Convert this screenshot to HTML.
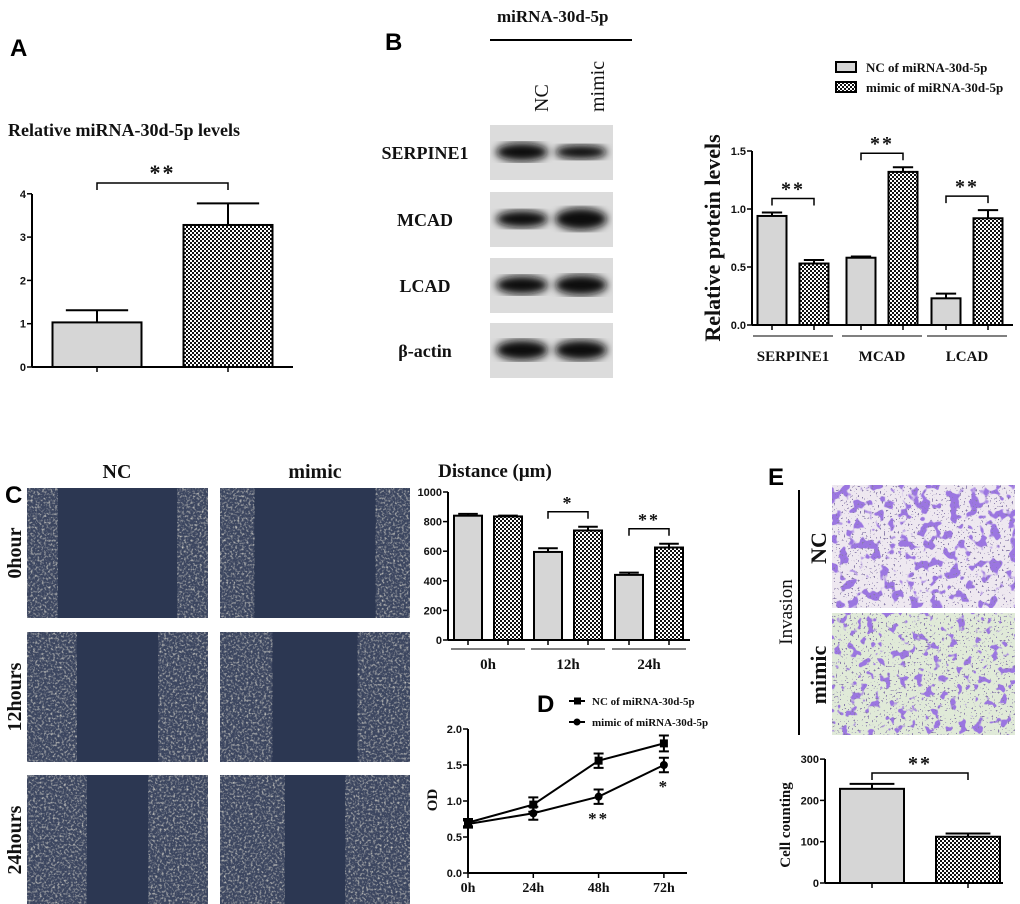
<!DOCTYPE html>
<html><head><meta charset="utf-8">
<style>
html,body{margin:0;padding:0;background:#fff;}
svg{display:block;}
.tk{font:bold 11px "Liberation Sans",sans-serif;fill:#111;}
.sf{font-family:"Liberation Serif",serif;font-weight:bold;fill:#111;}
.pl{font:bold 24px "Liberation Sans",sans-serif;fill:#000;}
</style></head>
<body>
<svg id="fig" width="1020" height="904" viewBox="0 0 1020 904" xmlns="http://www.w3.org/2000/svg">
<defs>
<pattern id="chk" width="4" height="4" patternUnits="userSpaceOnUse"><rect width="4" height="4" fill="#fff"/><rect width="2" height="2" fill="#111"/><rect x="2" y="2" width="2" height="2" fill="#111"/></pattern>
<filter id="blur3"><feGaussianBlur stdDeviation="4"/></filter>
<filter id="tex" x="0" y="0" width="100%" height="100%"><feTurbulence type="fractalNoise" baseFrequency="0.45" numOctaves="2" seed="3"/><feColorMatrix type="matrix" values="0 0 0 0 0.72  0 0 0 0 0.7  0 0 0 0 0.62  0 0 0 2.2 -1.05"/></filter>
<filter id="cellsA" x="0" y="0" width="100%" height="100%"><feTurbulence type="fractalNoise" baseFrequency="0.1" numOctaves="2" seed="7"/><feColorMatrix type="matrix" values="0 0 0 0 0.33  0 0 0 0 0.18  0 0 0 0 0.75  0 0 0 -14 6.4"/></filter>
<filter id="cellsB" x="0" y="0" width="100%" height="100%"><feTurbulence type="fractalNoise" baseFrequency="0.12" numOctaves="2" seed="11"/><feColorMatrix type="matrix" values="0 0 0 0 0.33  0 0 0 0 0.18  0 0 0 0 0.75  0 0 0 -14 5.8"/></filter>
<filter id="dots" x="0" y="0" width="100%" height="100%"><feTurbulence type="fractalNoise" baseFrequency="0.5" numOctaves="1" seed="5"/><feColorMatrix type="matrix" values="0 0 0 0 0.25  0 0 0 0 0.2  0 0 0 0 0.4  0 0 0 20 -13"/></filter>
</defs>

<text class="pl" x="10" y="56">A</text>
<text class="pl" x="385" y="50">B</text>
<text class="pl" x="5" y="503">C</text>
<text class="pl" x="537" y="712">D</text>
<text class="pl" x="768" y="485">E</text>

<text class="sf" x="8" y="136" font-size="18">Relative miRNA-30d-5p levels</text>

<g>
<text class="sf" x="497" y="22" font-size="17">miRNA-30d-5p</text>
<line x1="490" y1="40" x2="632" y2="40" stroke="#000" stroke-width="2"/>
<text class="sf" font-size="20" transform="translate(548,112) rotate(-90)" style="font-weight:normal">NC</text>
<text class="sf" font-size="20" transform="translate(604,112) rotate(-90)" style="font-weight:normal">mimic</text>
<g id="blotRows"></g>
</g>

<g id="scratch"></g>
<text class="sf" x="117" y="478" font-size="20" text-anchor="middle">NC</text>
<text class="sf" x="315" y="478" font-size="20" text-anchor="middle">mimic</text>

<g>
<line x1="799" y1="490" x2="799" y2="735" stroke="#000" stroke-width="2"/>
<text class="sf" font-size="19" transform="translate(792,612) rotate(-90)" text-anchor="middle" style="font-weight:normal">Invasion</text>
<text class="sf" font-size="22" transform="translate(826,548) rotate(-90)" text-anchor="middle">NC</text>
<text class="sf" font-size="22" transform="translate(826,675) rotate(-90)" text-anchor="middle">mimic</text>
<rect x="832" y="485" width="183" height="123" fill="#eee8f0"/>
<rect x="832" y="485" width="183" height="123" filter="url(#cellsA)"/>
<rect x="832" y="485" width="183" height="123" filter="url(#dots)"/>
<rect x="832" y="613" width="183" height="122" fill="#e0ead8"/>
<rect x="832" y="613" width="183" height="122" filter="url(#cellsB)"/>
<rect x="832" y="613" width="183" height="122" filter="url(#dots)"/>
</g>

<g id="charts"></g>
</svg>

<script>
// ---- Panel A data ----
const aCats = ['NC', 'mimic'];
const aVals = [1.03, 3.28];
const aErr = [0.28, 0.5];
const aTicks = [0, 1, 2, 3, 4];
// ---- Panel B data ----
const bCats = ['SERPINE1', 'MCAD', 'LCAD'];
const bNC = [0.94, 0.58, 0.23];
const bNCErr = [0.03, 0.01, 0.04];
const bMim = [0.53, 1.32, 0.92];
const bMimErr = [0.03, 0.04, 0.07];
const bSig = ['**', '**', '**'];
const bTicks = ['0.0', '0.5', '1.0', '1.5'];
const blotLabels = ['SERPINE1', 'MCAD', 'LCAD', 'β-actin'];
// ---- Panel C data ----
const cCats = ['0h', '12h', '24h'];
const cNC = [840, 595, 440];
const cNCErr = [12, 25, 15];
const cMim = [835, 740, 625];
const cMimErr = [5, 25, 25];
const cSig = ['', '*', '**'];
const cTicks = [0, 200, 400, 600, 800, 1000];
const rowLabels = ['0hour', '12hours', '24hours'];
// ---- Panel D data ----
const dCats = ['0h', '24h', '48h', '72h'];
const dNC = [0.70, 0.95, 1.56, 1.80];
const dNCErr = [0.05, 0.10, 0.10, 0.11];
const dMim = [0.68, 0.83, 1.06, 1.50];
const dMimErr = [0.05, 0.09, 0.10, 0.10];
const dSig = ['', '', '**', '*'];
const dTicks = ['0.0', '0.5', '1.0', '1.5', '2.0'];
// ---- Panel E data ----
const eCats = ['NC', 'mimic'];
const eVals = [228, 112];
const eErr = [12, 8];
const eTicks = [0, 100, 200, 300];

const NS = 'http://www.w3.org/2000/svg';
const root = document.getElementById('charts');
function mk(tag, attrs, parent) {
  const e = document.createElementNS(NS, tag);
  for (const k in attrs) e.setAttribute(k, attrs[k]);
  (parent || root).appendChild(e);
  return e;
}
function txt(str, attrs, parent) { const t = mk('text', attrs, parent); t.textContent = str; return t; }

function yAxis(x, yFn, ticks, top, bottom, name) {
  const g = mk('g', {});
  
  
  mk('line', {x1: x, y1: top, x2: x, y2: bottom, stroke: '#000', 'stroke-width': 2}, g);
  ticks.forEach(t => {
    const y = yFn(parseFloat(t));
    mk('line', {x1: x - 5, y1: y, x2: x, y2: y, stroke: '#000', 'stroke-width': 1.5}, g);
    const l = txt(String(t), {x: x - 6, y: y + 4, 'text-anchor': 'end', class: 'tk'}, g);
    
    
  });
}
function xAxis(x1, x2, y, name) {
  const l = mk('line', {x1: x1, y1: y, x2: x2, y2: y, stroke: '#000', 'stroke-width': 2});
  
  
}
function bar(cx, w, yFn, v, err, pattern, name) {
  const g = mk('g', {});
  
  
  const y0 = yFn(0), y = yFn(v), ye = yFn(v + err);
  mk('line', {x1: cx, y1: y, x2: cx, y2: ye, stroke: '#000', 'stroke-width': 2}, g);
  mk('line', {x1: cx - w * 0.35, y1: ye, x2: cx + w * 0.35, y2: ye, stroke: '#000', 'stroke-width': 2}, g);
  mk('rect', {x: cx - w / 2, y: y, width: w, height: y0 - y, fill: pattern ? 'url(#chk)' : '#d6d6d6', stroke: '#000', 'stroke-width': 2}, g);
  mk('line', {x1: cx, y1: y0, x2: cx, y2: y0 + 5, stroke: '#000', 'stroke-width': 1.5}, g);
}
function bracket(x1, x2, y, label, fs, name) {
  const g = mk('g', {});
  
  
  mk('path', {d: `M${x1},${y + 7}V${y}H${x2}V${y + 7}`, fill: 'none', stroke: '#000', 'stroke-width': 1.5}, g);
  txt(label, {x: (x1 + x2) / 2, y: y - 3, 'text-anchor': 'middle', class: 'sf', 'font-size': fs, 'letter-spacing': 2}, g);
}

// ===== Panel A =====
const yA = v => 367 - v * 43.3;
const xA = i => 97 + i * 131;
yAxis(32, yA, aTicks, 194, 367, 'panel-a-y-axis');
xAxis(32, 293, 367, 'panel-a-x-axis');
aCats.forEach((c, i) => bar(xA(i), 89, yA, aVals[i], aErr[i], i === 1, 'panel-a-bar-' + c));
bracket(xA(0), xA(1), 183, '**', 22, 'panel-a-significance');

// ===== Panel B chart =====
const yB = v => 325 - v * 116;
const xB = i => [793, 882, 967][i];
yAxis(752, yB, bTicks, 151, 325, 'panel-b-y-axis');
xAxis(752, 1013, 325, 'panel-b-x-axis');
bCats.forEach((c, i) => {
  bar(xB(i) - 21, 29, yB, bNC[i], bNCErr[i], false, 'panel-b-nc-bar-' + c);
  bar(xB(i) + 21, 29, yB, bMim[i], bMimErr[i], true, 'panel-b-mimic-bar-' + c);
  const top = Math.max(bNC[i] + bNCErr[i], bMim[i] + bMimErr[i]);
  bracket(xB(i) - 21, xB(i) + 21, yB(top) - 14, bSig[i], 20, 'panel-b-significance-' + c);
  const ul = mk('line', {x1: xB(i) - 40, y1: 336, x2: xB(i) + 40, y2: 336, stroke: '#000', 'stroke-width': 1});
  
  const lbl = txt(c, {x: xB(i), y: 361, 'text-anchor': 'middle', class: 'sf', 'font-size': 15});
  
  
});
const bTitle = txt('Relative protein levels', {transform: 'translate(720,238) rotate(-90)', 'text-anchor': 'middle', class: 'sf', 'font-size': 22});


[['NC of miRNA-30d-5p', false], ['mimic of miRNA-30d-5p', true]].forEach((L, i) => {
  const g = mk('g', {});
  
  
  mk('rect', {x: 836, y: 62 + i * 20, width: 20, height: 10, fill: L[1] ? 'url(#chk)' : '#d6d6d6', stroke: '#000', 'stroke-width': 2}, g);
  txt(L[0], {x: 866, y: 72 + i * 20, class: 'sf', 'font-size': 13}, g);
});

// Blot rows
const blotG = document.getElementById('blotRows');
const rowY = [125, 192, 258, 323];
const bandW = [[0.9, 0.7], [0.85, 1.1], [0.9, 1.0], [1.0, 1.0]];
blotLabels.forEach((lab, i) => {
  const y = rowY[i];
  const g = mk('g', {}, blotG);
  
  
  mk('rect', {x: 490, y: y, width: 123, height: 55, fill: '#dcdcdc'}, g);
  mk('ellipse', {cx: 522, cy: y + 27, rx: 26, ry: 10 * bandW[i][0], fill: '#0b0b0b', filter: 'url(#blur3)'}, g);
  mk('ellipse', {cx: 581, cy: y + 27, rx: 26, ry: 10 * bandW[i][1], fill: '#0b0b0b', filter: 'url(#blur3)'}, g);
  txt(lab, {x: 425, y: y + 34, 'text-anchor': 'middle', class: 'sf', 'font-size': 18}, g);
});

// Scratch images
const scratch = document.getElementById('scratch');
const colX = [27, 220], rowTop = [488, 632, 775], rowH = [130, 130, 129];
const gaps = [[0.66, 0.64], [0.45, 0.45], [0.34, 0.32]];
rowTop.forEach((ry, r) => {
  colX.forEach((cx, c) => {
    const g = mk('g', {}, scratch);
    
    
    const w = c === 0 ? 181 : 190, h = rowH[r];
    mk('rect', {x: cx, y: ry, width: w, height: h, fill: '#2c3752'}, g);
    const gap = gaps[r][c];
    const edge = w * (1 - gap) / 2;
    mk('rect', {x: cx, y: ry, width: edge, height: h, fill: '#3c4660'}, g);
    mk('rect', {x: cx + w - edge, y: ry, width: edge, height: h, fill: '#3c4660'}, g);
    mk('rect', {x: cx, y: ry, width: edge, height: h, filter: 'url(#tex)'}, g);
    mk('rect', {x: cx + w - edge, y: ry, width: edge, height: h, filter: 'url(#tex)'}, g);
  });
  const l = txt(rowLabels[r], {transform: `translate(21,${ry + 65}) rotate(-90)`, 'text-anchor': 'middle', class: 'sf', 'font-size': 20});
  
  
});

// ===== Panel C chart =====
const yC = v => 640 - v * 0.148;
const xC = i => [488, 568, 649][i];
yAxis(448, yC, cTicks, 492, 640, 'panel-c-y-axis');
xAxis(448, 690, 640, 'panel-c-x-axis');
cCats.forEach((c, i) => {
  bar(xC(i) - 20, 28, yC, cNC[i], cNCErr[i], false, 'panel-c-nc-bar-' + c);
  bar(xC(i) + 20, 28, yC, cMim[i], cMimErr[i], true, 'panel-c-mimic-bar-' + c);
  if (cSig[i]) {
    const top = Math.max(cNC[i] + cNCErr[i], cMim[i] + cMimErr[i]);
    bracket(xC(i) - 20, xC(i) + 20, yC(top) - 15, cSig[i], 18, 'panel-c-significance-' + c);
  }
  const ul = mk('line', {x1: xC(i) - 37, y1: 649, x2: xC(i) + 37, y2: 649, stroke: '#000', 'stroke-width': 1});
  
  const lbl = txt(c, {x: xC(i), y: 669, 'text-anchor': 'middle', class: 'sf', 'font-size': 15});
  
  
});
const cTitle = txt('Distance (μm)', {x: 495, y: 477, 'text-anchor': 'middle', class: 'sf', 'font-size': 19});



// ===== Panel D =====
const yD = v => 873 - v * 72;
const xD = i => 468 + i * 65.3;
yAxis(468, yD, dTicks, 729, 873, 'panel-d-y-axis');
xAxis(468, 687, 873, 'panel-d-x-axis');
dCats.forEach((c, i) => {
  mk('line', {x1: xD(i), y1: 873, x2: xD(i), y2: 878, stroke: '#000', 'stroke-width': 1.5});
  const l = txt(c, {x: xD(i), y: 892, 'text-anchor': 'middle', class: 'sf', 'font-size': 14});
  
  
});
function series(vals, errs, square, name) {
  const g = mk('g', {});
  
  
  mk('polyline', {points: vals.map((v, i) => xD(i) + ',' + yD(v)).join(' '), fill: 'none', stroke: '#000', 'stroke-width': 2}, g);
  vals.forEach((v, i) => {
    const x = xD(i), y1 = yD(v + errs[i]), y2 = yD(v - errs[i]);
    mk('path', {d: `M${x},${y1}V${y2}M${x - 5},${y1}H${x + 5}M${x - 5},${y2}H${x + 5}`, stroke: '#000', 'stroke-width': 2, fill: 'none'}, g);
    if (square) mk('rect', {x: x - 4, y: yD(v) - 4, width: 8, height: 8, fill: '#000'}, g);
    else mk('circle', {cx: x, cy: yD(v), r: 4, fill: '#000'}, g);
  });
}
series(dNC, dNCErr, true, 'panel-d-nc-series');
series(dMim, dMimErr, false, 'panel-d-mimic-series');
dSig.forEach((s, i) => {
  if (!s) return;
  const t = txt(s, {x: xD(i), y: yD(dMim[i] - dMimErr[i]) + 20, 'text-anchor': 'middle', class: 'sf', 'font-size': 17, 'letter-spacing': 2});
  
  
});
const dTitle = txt('OD', {transform: 'translate(437,800) rotate(-90)', 'text-anchor': 'middle', class: 'sf', 'font-size': 15});


[['NC of miRNA-30d-5p', true], ['mimic of miRNA-30d-5p', false]].forEach((L, i) => {
  const g = mk('g', {});
  
  
  const y = 701 + i * 21;
  mk('line', {x1: 569, y1: y, x2: 585, y2: y, stroke: '#000', 'stroke-width': 2}, g);
  if (L[1]) mk('rect', {x: 574, y: y - 3.5, width: 7, height: 7, fill: '#000'}, g);
  else mk('circle', {cx: 577, cy: y, r: 3.5, fill: '#000'}, g);
  txt(L[0], {x: 592, y: y + 4, class: 'sf', 'font-size': 11}, g);
});

// ===== Panel E chart =====
const yE = v => 883 - v * 0.413;
const xE = i => 872 + i * 96;
yAxis(825, yE, eTicks, 759, 883, 'panel-e-y-axis');
xAxis(825, 1003, 883, 'panel-e-x-axis');
eCats.forEach((c, i) => bar(xE(i), 64, yE, eVals[i], eErr[i], i === 1, 'panel-e-bar-' + c));
bracket(xE(0), xE(1), 773, '**', 20, 'panel-e-significance');
const eTitle = txt('Cell counting', {transform: 'translate(790,825) rotate(-90)', 'text-anchor': 'middle', class: 'sf', 'font-size': 15});


</script>
</body></html>
